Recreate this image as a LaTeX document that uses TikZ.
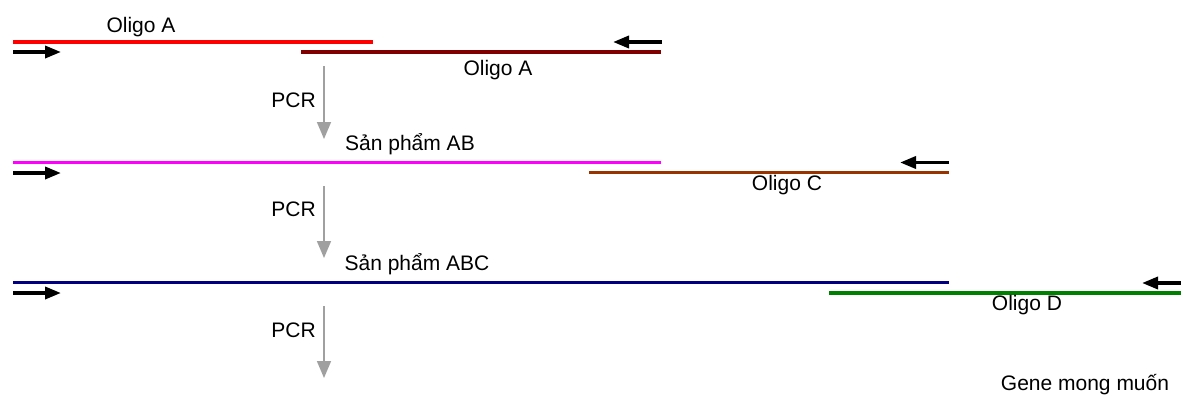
\documentclass[tikz,border=0pt]{standalone}
\usepackage{fontspec}
\setmainfont{Liberation Sans}
\usetikzlibrary{arrows.meta}
\definecolor{oRed}{HTML}{FF0000}
\definecolor{oDarkRed}{HTML}{800000}
\definecolor{oMagenta}{HTML}{FF00FF}
\definecolor{oBrown}{HTML}{993300}
\definecolor{oNavy}{HTML}{000080}
\definecolor{oGreen}{HTML}{008000}
\definecolor{pcrGray}{HTML}{A0A0A0}
\tikzset{
  strand/.style={line width=3.2pt},
  primer/.style={line width=3.5pt, black, -{Triangle[width=12pt,length=16pt]}},
  pcrarrow/.style={line width=1.6pt, pcrGray, -{Triangle[width=14pt,length=17pt]}},
  lbl/.style={font=\fontsize{21}{25}\selectfont, inner sep=0pt, anchor=base},
  pcrlbl/.style={font=\fontsize{21}{25}\selectfont, inner sep=0pt, anchor=base east}
}
\begin{document}
\begin{tikzpicture}[x=1pt,y=-1pt]
\useasboundingbox (0,0) rectangle (1181,399);
% row 1
\coordinate (a1s) at (13,42);  \coordinate (a1e) at (373,42);
\coordinate (a2s) at (301,52); \coordinate (a2e) at (661,52);
\draw[strand, oRed] (a1s) -- (a1e);
\draw[strand, oDarkRed] (a2s) -- (a2e);
\coordinate (p1s) at (13,52);  \coordinate (p1e) at (61,52);
\coordinate (q1s) at (662,42); \coordinate (q1e) at (613,42);
\draw[primer] (p1s) -- (p1e);
\draw[primer] (q1s) -- (q1e);
\node[lbl] (lA1) at (141,32) {Oligo A};
\node[lbl] (lA2) at (498,75) {Oligo A};
\coordinate (r1s) at (324,66); \coordinate (r1e) at (324,139);
\draw[pcrarrow] (r1s) -- (r1e);
\node[pcrlbl] (pcr1) at (316,107) {PCR};
% row 2
\node[lbl] (lAB) at (410,150) {Sản phẩm AB};
\coordinate (b1s) at (13,162.5); \coordinate (b1e) at (661,162.5);
\coordinate (c1s) at (589,172.5); \coordinate (c1e) at (949,172.5);
\draw[strand, oMagenta] (b1s) -- (b1e);
\draw[strand, oBrown] (c1s) -- (c1e);
\coordinate (p2s) at (13,173); \coordinate (p2e) at (61,173);
\coordinate (q2s) at (949,162.5); \coordinate (q2e) at (900,162.5);
\draw[primer] (p2s) -- (p2e);
\draw[primer] (q2s) -- (q2e);
\node[lbl] (lC) at (787,190) {Oligo C};
\coordinate (r2s) at (324,186); \coordinate (r2e) at (324,258);
\draw[pcrarrow] (r2s) -- (r2e);
\node[pcrlbl] (pcr2) at (316,216) {PCR};
% row 3
\node[lbl] (lABC) at (417,270) {Sản phẩm ABC};
\coordinate (d1s) at (13,282.5); \coordinate (d1e) at (949,282.5);
\coordinate (e1s) at (829,293); \coordinate (e1e) at (1181,293);
\draw[strand, oNavy] (d1s) -- (d1e);
\draw[strand, oGreen] (e1s) -- (e1e);
\coordinate (p3s) at (13,293); \coordinate (p3e) at (61,293);
\coordinate (q3s) at (1185,283); \coordinate (q3e) at (1142,283);
\draw[primer] (p3s) -- (p3e);
\draw[primer] (q3s) -- (q3e);
\node[lbl] (lD) at (1027,310) {Oligo D};
\coordinate (r3s) at (324,306); \coordinate (r3e) at (324,378);
\draw[pcrarrow] (r3s) -- (r3e);
\node[pcrlbl] (pcr3) at (316,337) {PCR};
\node[lbl] (gene) at (1085,390) {Gene mong muốn};
\end{tikzpicture}
\end{document}
